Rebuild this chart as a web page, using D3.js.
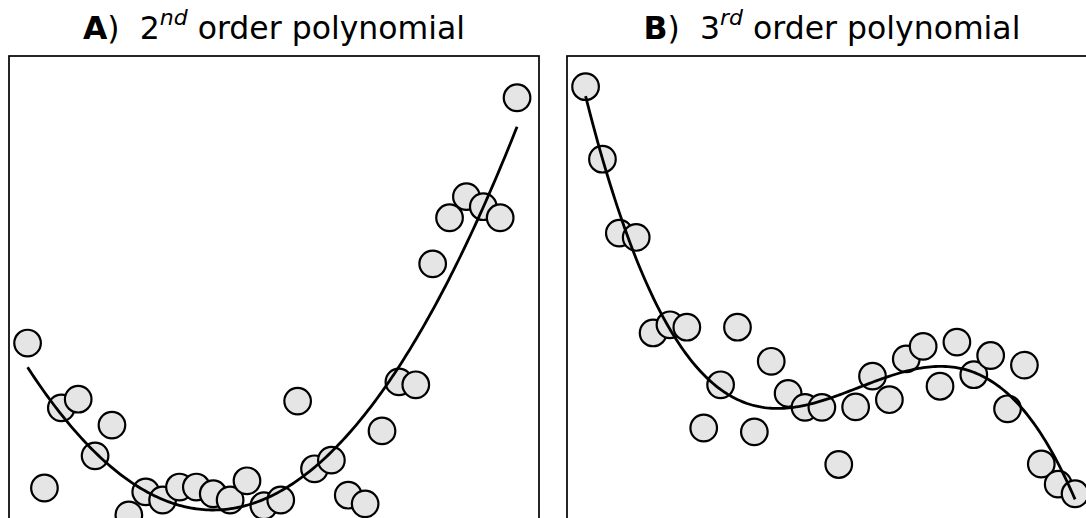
<!DOCTYPE html>
<html>
<head>
<meta charset="utf-8">
<script src="https://cdn.jsdelivr.net/npm/d3@7"></script>
<style>
  html, body { margin: 0; padding: 0; background: #fff; }
  svg { display: block; }
</style>
</head>
<body>
<svg id="chart" width="1086" height="518"></svg>
<script>
// Sample positions shared by both panels
const samplePositions = [0, 1, 2, 3, 4, 5, 6, 7, 8, 9, 10, 11, 12, 13, 14,
                         15, 16, 17, 18, 19, 20, 21, 22, 23, 24, 25, 26, 27, 28, 29];

// Panel A observations (quadratic trend)
const valuesA = [4.02, 1.00, 2.67, 2.85, 1.67, 2.31, 0.44, 0.92, 0.75, 1.02,
                 1.02, 0.88, 0.75, 1.15, 0.63, 0.75, 2.81, 1.40, 1.58, 0.85,
                 0.67, 2.19, 3.21, 3.15, 5.67, 6.63, 7.07, 6.86, 6.63, 9.13];

// Panel B observations (cubic trend)
const valuesB = [9.36, 7.85, 6.31, 6.22, 4.23, 4.40, 4.35, 2.25, 3.15, 4.35,
                 2.17, 3.64, 2.97, 2.68, 2.68, 1.49, 2.69, 3.33, 2.84, 3.69,
                 3.95, 3.12, 4.04, 3.36, 3.76, 2.65, 3.56, 1.50, 1.08, 0.88];

const panelLabels = ["A", "B"];
const panelOrders = [2, 3];
const orderSuffixes = ["nd", "rd"];

// Least-squares polynomial fit via normal equations
function polyfit(xs, ys, degree) {
  const n = degree + 1;
  const A = Array.from({length: n}, () => new Array(n + 1).fill(0));
  for (let k = 0; k < xs.length; k++) {
    const pw = [];
    for (let j = 0; j < 2 * n; j++) pw.push(Math.pow(xs[k], j));
    for (let r = 0; r < n; r++) {
      for (let c = 0; c < n; c++) A[r][c] += pw[r + c];
      A[r][n] += ys[k] * pw[r];
    }
  }
  for (let i = 0; i < n; i++) {
    let p = i;
    for (let r = i + 1; r < n; r++) if (Math.abs(A[r][i]) > Math.abs(A[p][i])) p = r;
    [A[i], A[p]] = [A[p], A[i]];
    for (let r = 0; r < n; r++) {
      if (r === i) continue;
      const f = A[r][i] / A[i][i];
      for (let c = i; c <= n; c++) A[r][c] -= f * A[i][c];
    }
  }
  return A.map((row, i) => row[n] / row[i]);
}
const evalPoly = (coef, x) => coef.reduce((s, c, j) => s + c * Math.pow(x, j), 0);

const svg = d3.select("#chart");
const panelWidth = 530;
const panelLefts = [9, 567];
const plotTop = 56;

const y = d3.scaleLinear().domain([0, 10]).range([536, plotTop]);

const datasets = [valuesA, valuesB];

datasets.forEach((vals, p) => {
  const left = panelLefts[p];
  const x = d3.scaleLinear().domain([-1.1, 30.3]).range([left, left + panelWidth]);
  const g = svg.append("g");

  const clipId = "clip" + p;
  svg.append("defs").append("clipPath").attr("id", clipId)
    .append("rect")
    .attr("x", left).attr("y", plotTop)
    .attr("width", panelWidth).attr("height", y(-1.5) - plotTop);

  const plot = g.append("g").attr("clip-path", `url(#${clipId})`);

  const pts = samplePositions.map((s, i) => ({x: s, y: vals[i]}));

  plot.selectAll("circle").data(pts).enter().append("circle")
    .attr("cx", d => x(d.x))
    .attr("cy", d => y(d.y))
    .attr("r", 13.3)
    .attr("fill", "#e5e5e5")
    .attr("stroke", "#000")
    .attr("stroke-width", 2.2);

  const coef = polyfit(samplePositions, vals, panelOrders[p]);
  const x0 = d3.min(samplePositions), x1 = d3.max(samplePositions);
  const curve = d3.range(0, 201).map(k => {
    const xv = x0 + (x1 - x0) * k / 200;
    return [xv, evalPoly(coef, xv)];
  });
  plot.append("path")
    .datum(curve)
    .attr("fill", "none")
    .attr("stroke", "#000")
    .attr("stroke-width", 2.8)
    .attr("d", d3.line().x(d => x(d[0])).y(d => y(d[1])));

  // Axes frame
  g.append("rect")
    .attr("x", left).attr("y", plotTop)
    .attr("width", panelWidth).attr("height", y(-1.5) - plotTop)
    .attr("fill", "none")
    .attr("stroke", "#000")
    .attr("stroke-width", 1.7);

  // Title
  const title = g.append("text")
    .attr("x", left + panelWidth / 2)
    .attr("y", 38.5)
    .attr("text-anchor", "middle")
    .attr("font-family", "DejaVu Sans")
    .attr("font-size", 31.5)
    .attr("fill", "#000");
  title.append("tspan").attr("font-weight", "bold").text(panelLabels[p]);
  title.append("tspan").text(")\u00a0\u00a0" + panelOrders[p]);
  title.append("tspan")
    .attr("font-style", "italic")
    .attr("font-size", 22)
    .attr("dy", -13.5)
    .text(orderSuffixes[p]);
  title.append("tspan")
    .attr("dy", 13.5)
    .text(" order polynomial");
});
</script>
</body>
</html>
